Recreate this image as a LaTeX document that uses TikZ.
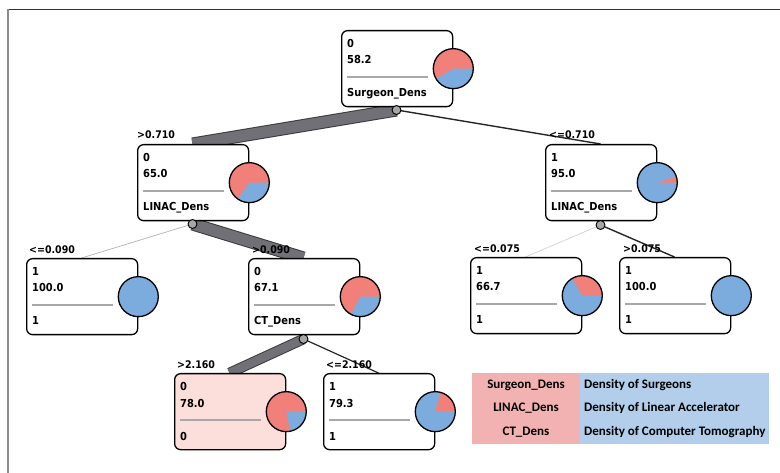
\documentclass[tikz,border=0pt]{standalone}
\usepackage{fontspec}
\setmainfont{DejaVu Sans}
\newfontfamily\nodefont{DejaVu Sans Condensed}
\newfontfamily\legfont{Carlito}
\usetikzlibrary{calc}

\definecolor{piered}{RGB}{241,128,122}
\definecolor{pieblue}{RGB}{124,172,222}
\definecolor{boxpink}{RGB}{252,222,218}
\definecolor{seprule}{RGB}{168,168,168}
\definecolor{bandfill}{RGB}{112,112,118}
\definecolor{bandedge}{RGB}{58,58,62}
\definecolor{legpink}{RGB}{242,178,178}
\definecolor{legblue}{RGB}{178,206,234}

\tikzset{
  dtbox/.style={draw=black, line width=1.3pt, rounded corners=6pt, anchor=north west,
    minimum width=111pt, minimum height=76pt, inner sep=0pt},
  dttext/.style={anchor=base west, inner sep=0pt, font=\nodefont\bfseries\fontsize{11}{13}\selectfont},
  dtlabel/.style={anchor=base west, inner sep=0pt, font=\nodefont\bfseries\fontsize{10.5}{12}\selectfont},
  pieborder/.style={circle, draw=black, line width=1.3pt, minimum size=40pt, inner sep=0pt},
  conn/.style={circle, draw=black, fill=gray!70, line width=0.9pt, minimum size=9pt, inner sep=0pt},
  band/.style={draw=bandedge, line width=1pt, double=bandfill, double distance=#1},
  thinblack/.style={draw=black!85, line width=1.4pt},
  thingray/.style={draw=black!30, line width=0.7pt},
  legcell/.style={anchor=north west, inner sep=0pt, minimum height=71pt},
  legtext/.style={inner sep=0pt, font=\legfont\bfseries\fontsize{13}{15}\selectfont}
}

% tree node: name, left, top, first line, second line, last line, red angle, fill
\newcommand{\dtnode}[8]{%
  \node[dtbox, fill=#8] (#1) at (#2,#3) {};
  \node[dttext] (#1-l1) at ({#2+6},{#3+18}) {#4};
  \node[dttext] (#1-l2) at ({#2+6},{#3+34}) {#5};
  \draw[seprule, line width=1.2pt] ({#2+6},{#3+47}) -- ({#2+87},{#3+47});
  \node[dttext] (#1-l3) at ({#2+6},{#3+67}) {#6};
  \fill[pieblue] (#1.east) circle[radius=20pt];
  \ifdim#7pt>0pt
    \fill[piered] (#1.east) -- ++(0:20pt) arc[start angle=0, end angle=#7, radius=20pt] -- cycle;
  \fi
  \node[pieborder] (#1-pie) at (#1.east) {};
}

\begin{document}
\begin{tikzpicture}[x=1pt, y=-1pt]
\useasboundingbox (0,0) rectangle (780,473);

% frame
\draw[black!80, line width=1.6pt] (7,9.5) -- (780,9.5);
\draw[black!45, line width=2pt] (7.5,9) -- (7.5,473);

% split points below the inner nodes
\coordinate (root-k) at (396.5,110);
\coordinate (L1-k) at (192.5,224);
\coordinate (R1-k) at (600.5,225);
\coordinate (CT-k) at (303.5,339);

% edges (drawn below the boxes)
\draw[band=11pt] (root-k) -- (192.5,144) coordinate (L1-top);
\draw[thinblack] (root-k) -- (600.5,144) coordinate (R1-top);
\draw[thingray] (L1-k) -- (81.5,258) coordinate (A-top);
\draw[band=11pt] (L1-k) -- (303.5,258) coordinate (CT-top);
\draw[thingray, draw=black!18] (R1-k) -- (525.5,257) coordinate (B-top);
\draw[thinblack] (R1-k) -- (674.5,257) coordinate (C-top);
\draw[band=8.5pt] (CT-k) -- (229.5,373) coordinate (P-top);
\draw[thinblack, line width=1.2pt] (CT-k) -- (378.5,373) coordinate (Q-top);

% boxes
\dtnode{root}{341}{30}{0}{58.2}{Surgeon\_Dens}{209.5}{white}
\dtnode{L1}{137}{144}{0}{65.0}{LINAC\_Dens}{234}{white}
\dtnode{R1}{545}{144}{1}{95.0}{LINAC\_Dens}{18}{white}
\dtnode{A}{26}{258}{1}{100.0}{1}{0}{white}
\dtnode{CT}{248}{258}{0}{67.1}{CT\_Dens}{241.6}{white}
\dtnode{B}{470}{257}{1}{66.7}{1}{120}{white}
\dtnode{C}{619}{257}{1}{100.0}{1}{0}{white}
\dtnode{P}{174}{373}{0}{78.0}{0}{280.8}{boxpink}
\dtnode{Q}{323}{373}{1}{79.3}{1}{74.5}{white}

% split dots
\node[conn] (root-dot) at (root-k) {};
\node[conn] (L1-dot) at (L1-k) {};
\node[conn] (R1-dot) at (R1-k) {};
\node[conn] (CT-dot) at (CT-k) {};

% split labels
\node[dtlabel] (L1-lab) at (137,139) {>0.710};
\node[dtlabel] (R1-lab) at (549,139) {<=0.710};
\node[dtlabel] (A-lab) at (29,254) {<=0.090};
\node[dtlabel] (CT-lab) at (252,254) {>0.090};
\node[dtlabel] (B-lab) at (474,253) {<=0.075};
\node[dtlabel] (C-lab) at (623,253) {>0.075};
\node[dtlabel] (P-lab) at (177,369) {>2.160};
\node[dtlabel] (Q-lab) at (326,369) {<=2.160};

% legend
\node[legcell, fill=legpink, minimum width=108pt] (legA) at (472,373) {};
\node[legcell, fill=legblue, minimum width=189pt] (legB) at (580,373) {};
\node[legtext] (k1) at (526,385) {Surgeon\_Dens};
\node[legtext] (k2) at (526,408) {LINAC\_Dens};
\node[legtext] (k3) at (526,432) {CT\_Dens};
\node[legtext, anchor=west] (d1) at (584,385) {Density of Surgeons};
\node[legtext, anchor=west] (d2) at (584,408) {Density of Linear Accelerator};
\node[legtext, anchor=west] (d3) at (584,432) {Density of Computer Tomography};
\end{tikzpicture}
\end{document}
